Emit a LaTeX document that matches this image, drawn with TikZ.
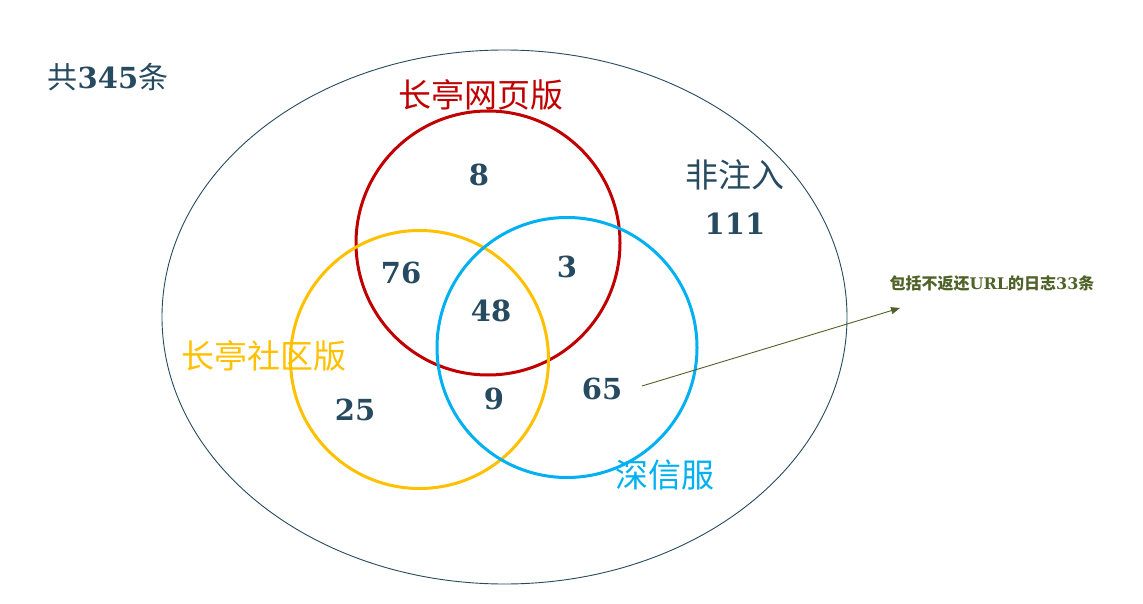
\documentclass[tikz,border=0pt]{standalone}
\usepackage{fontspec}
\setmainfont{DejaVu Serif}
\newfontfamily\cjk{Noto Sans CJK SC}
\newfontfamily\numf{DejaVu Serif}
\usetikzlibrary{arrows.meta}
\definecolor{navy}{HTML}{264A60}
\definecolor{redc}{HTML}{C00000}
\definecolor{yelc}{HTML}{FFC000}
\definecolor{bluc}{HTML}{00B0F0}
\definecolor{grnc}{HTML}{4F6228}
\tikzset{
  num/.style={text=navy, font=\fontsize{29}{34}\selectfont\numf\bfseries, inner sep=0pt},
  lab/.style={font=\fontsize{33}{38}\selectfont\cjk, inner sep=0pt},
  setc/.style={line width=3pt},
}
\begin{document}
\begin{tikzpicture}[x=1pt,y=-1pt]
\useasboundingbox (0,0) rectangle (1143,604);
\draw[navy, line width=0.9pt] (504.5,317) ellipse [x radius=342.5, y radius=267];
\draw[setc, redc] (488,243) circle [radius=132];
\draw[setc, yelc] (419.5,359.5) circle [radius=129];
\draw[setc, bluc] (567,347.5) circle [radius=130];
\node[text=navy, font=\fontsize{30}{34}\selectfont\cjk, inner sep=0pt] (total) at (108,77) {共{\numf\bfseries\fontsize{29}{34}\selectfont 345}条};
\node[lab, text=redc] (web) at (481,95) {长亭网页版};
\node[lab, text=yelc] (comm) at (264,356) {长亭社区版};
\node[lab, text=bluc] (sxf) at (665,475) {深信服};
\node[lab, text=navy] (nonin) at (735,175) {非注入};
\node[num] (n111) at (735,224) {111};
\node[num] (n8) at (479,175) {8};
\node[num] (n76) at (401,273) {76};
\node[num] (n3) at (567,267) {3};
\node[num] (n48) at (491,311) {48};
\node[num] (n25) at (355,410) {25};
\node[num] (n9) at (494,399) {9};
\node[num] (n65) at (602,389) {65};
\node[text=grnc, font=\fontsize{16}{20}\selectfont\cjk\bfseries, inner sep=0pt] (note) at (992,283) {包括不返还{\numf\bfseries URL}的日志{\numf\bfseries 33}条};
\coordinate (a0) at (642,386);
\coordinate (a1) at (900,308);
\draw[grnc, line width=0.9pt, -{Triangle[length=9pt,width=7pt]}] (a0) -- (a1);
\end{tikzpicture}
\end{document}
